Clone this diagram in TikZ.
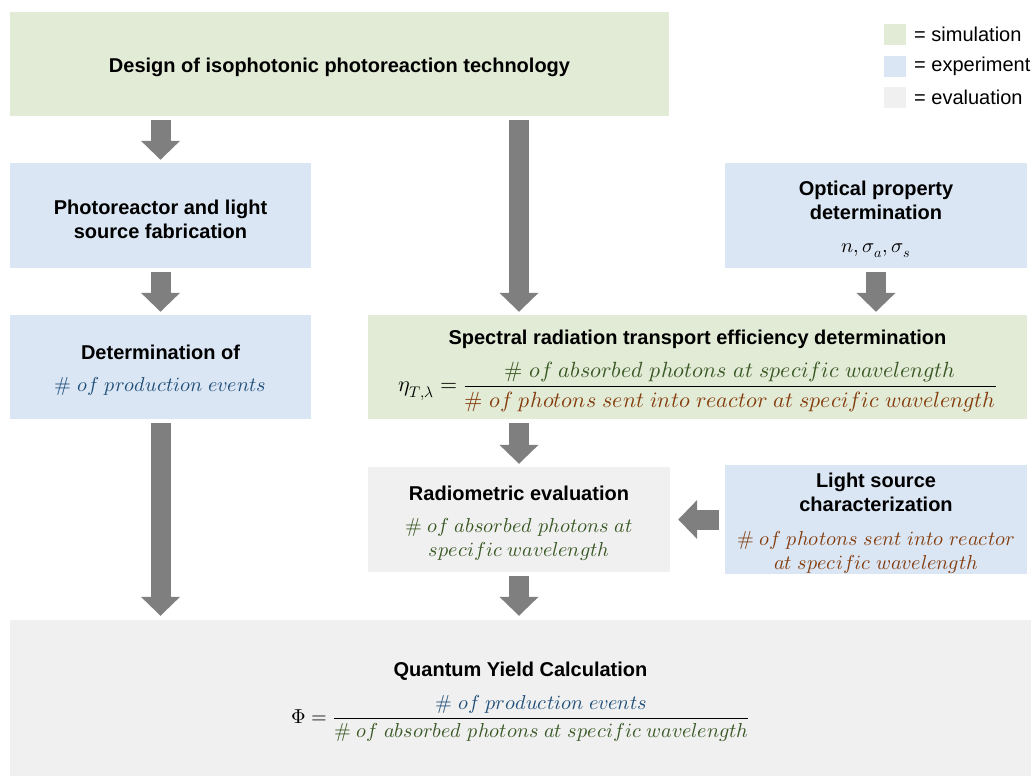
\documentclass[tikz,border=0pt]{standalone}
\usepackage{fontspec}
\usepackage{unicode-math}
\setmainfont{Liberation Sans}
\setmathfont{Latin Modern Math}
\usetikzlibrary{arrows.meta}
\definecolor{simg}{HTML}{E2EBD6}
\definecolor{expb}{HTML}{DAE6F4}
\definecolor{evalg}{HTML}{F0F0F0}
\definecolor{arrg}{HTML}{7F7F7F}
\definecolor{tblue}{HTML}{1F4E79}
\definecolor{tgreen}{HTML}{385723}
\definecolor{tbrown}{HTML}{843C0C}
\newcommand{\ttl}[1]{{\bfseries #1}}
\newcommand{\mth}{\fontsize{20.2}{24}\selectfont}
\newcommand{\mthbig}{\fontsize{22}{24}\selectfont}
\newcommand{\pushdn}{\rule{0pt}{22pt}}
\tikzset{
  box/.style={draw=none, inner sep=0pt, align=center, font=\fontsize{20}{24}\selectfont},
  simbox/.style={box, fill=simg},
  expbox/.style={box, fill=expb},
  evalbox/.style={box, fill=evalg},
  blockarrow/.style={draw=arrg, line width=20pt, -{Triangle[width=38pt,length=19pt]}},
  legsq/.style={draw=none, minimum width=22pt, minimum height=21pt, inner sep=0pt},
  legtxt/.style={anchor=west, inner sep=0pt, font=\fontsize{20}{24}\selectfont}
}
\begin{document}
\begin{tikzpicture}[x=1pt,y=-1pt]
\useasboundingbox (0,0) rectangle (1031,776);
% boxes
\node[simbox, minimum width=659pt, minimum height=104pt] (design) at (339.5,64)
  {\pushdn\ttl{Design of isophotonic photoreaction technology}};
\node[expbox, minimum width=301pt, minimum height=105pt] (photo) at (160.5,215.5)
  {\pushdn\ttl{Photoreactor and light}\\\ttl{source fabrication}};
\node[expbox, minimum width=302pt, minimum height=105pt] (optical) at (876,215.5)
  {\pushdn\ttl{Optical property}\\\ttl{determination}\\[9pt]{\mth$n,\sigma_a,\sigma_s$}};
\node[expbox, minimum width=301pt, minimum height=104pt] (det) at (160.5,367)
  {\pushdn\ttl{Determination of}\\[8pt]{\mth\color{tblue}$\#\ of\ production\ events$}};
\node[simbox, minimum width=659pt, minimum height=104pt] (spec) at (697.5,367)
  {\pushdn\ttl{Spectral radiation transport efficiency determination}\\[12pt]
   {\mthbig$\displaystyle \eta_{T,\lambda}=\frac{\color{tgreen}\#\ of\ absorbed\ photons\ at\ specific\ wavelength}{\color{tbrown}\#\ of\ photons\ sent\ into\ reactor\ at\ specific\ wavelength}$}};
\node[evalbox, minimum width=302pt, minimum height=105pt] (radio) at (519,519.5)
  {\pushdn\ttl{Radiometric evaluation}\\[8pt]{\mth\color{tgreen}$\#\ of\ absorbed\ photons\ at$}\\{\mth\color{tgreen}$specific\ wavelength$}};
\node[expbox, minimum width=302pt, minimum height=105pt] (light) at (876,519.5)
  {\pushdn\ttl{Light source}\\\ttl{characterization}\\[10pt]{\mth\color{tbrown}$\#\ of\ photons\ sent\ into\ reactor$}\\{\mth\color{tbrown}$at\ specific\ wavelength$}};
\node[evalbox, minimum width=1021pt, minimum height=156pt] (qy) at (520.5,698)
  {\pushdn\ttl{Quantum Yield Calculation}\\[14pt]
   {\mth$\displaystyle \Phi=\frac{\color{tblue}\#\ of\ production\ events}{\color{tgreen}\#\ of\ absorbed\ photons\ at\ specific\ wavelength}$}};
% legend
\node[legsq, fill=simg] (l1) at (895,34.5) {};
\node[legsq, fill=expb] (l2) at (895,66.5) {};
\node[legsq, fill=evalg] (l3) at (895,97.5) {};
\node[legtxt] (t1) at (914,34.5) {= simulation};
\node[legtxt] (t2) at (914,66.5) {= experiment};
\node[legtxt] (t3) at (914,97.5) {= evaluation};
% arrows
\draw[blockarrow] ([yshift=-4pt]photo.north |- design.south) -- ([yshift=3pt]photo.north);
\draw[blockarrow] ([yshift=-4pt]radio.north |- design.south) -- ([yshift=3pt]radio.north |- spec.north);
\draw[blockarrow] ([yshift=-4pt]photo.south) -- ([yshift=3pt]det.north);
\draw[blockarrow] ([yshift=-4pt]optical.south) -- ([yshift=3pt]optical.south |- spec.north);
\draw[blockarrow] ([yshift=-4pt]det.south) -- ([yshift=4pt]det.south |- qy.north);
\draw[blockarrow] ([yshift=-4pt]radio.north |- spec.south) -- ([yshift=3pt]radio.north);
\draw[blockarrow] ([yshift=-4pt]radio.south) -- ([yshift=4pt]radio.south |- qy.north);
\draw[blockarrow] ([xshift=-6pt]light.west) -- ([xshift=8pt]radio.east);
\end{tikzpicture}
\end{document}
